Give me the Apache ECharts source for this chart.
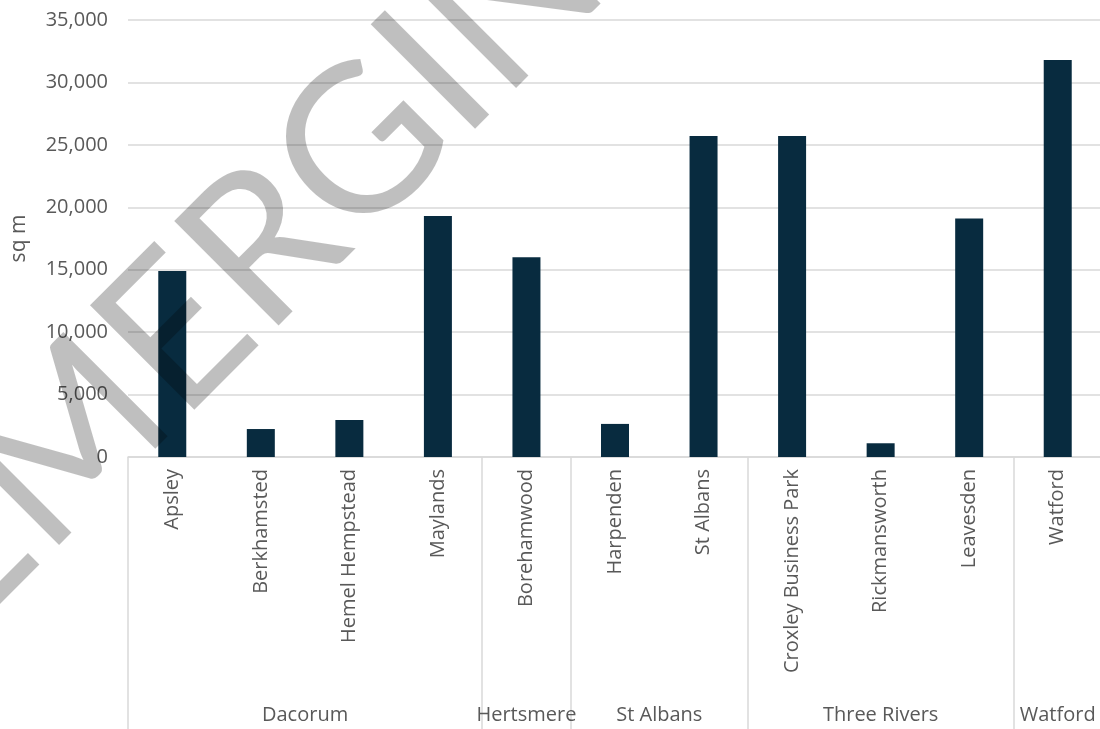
<!DOCTYPE html>
<html>
<head>
<meta charset="utf-8">
<script src="https://cdn.jsdelivr.net/npm/echarts@6/dist/echarts.min.js"></script>
<style>
  html, body { margin: 0; padding: 0; background: #ffffff; }
  #chart { width: 1100px; height: 729px; }
</style>
</head>
<body>
<div id="chart"></div>
<script>
// ---- data ----
const locations = ['Apsley', 'Berkhamsted', 'Hemel Hempstead', 'Maylands', 'Borehamwood',
  'Harpenden', 'St Albans', 'Croxley Business Park', 'Rickmansworth', 'Leavesden', 'Watford'];
const floorspace = [14900, 2240, 2960, 19300, 16000, 2650, 25700, 25700, 1100, 19100, 31800];
const districts = ['Dacorum', 'Hertsmere', 'St Albans', 'Three Rivers', 'Watford'];
const districtCounts = [4, 1, 2, 3, 1];
const yTicks = [0, 5000, 10000, 15000, 20000, 25000, 30000, 35000];
const yAxisTitle = 'sq m';
const watermarkText = 'EMERGING';

// derived group boundaries / centres (in category units)
const boundaries = [0];
const centres = [];
districtCounts.forEach(function (c) {
  const start = boundaries[boundaries.length - 1];
  centres.push(start + c / 2);
  boundaries.push(start + c);
});

const FONT = "'Open Sans', sans-serif";
const TXT = '#595959';
const GRID = '#d9d9d9';

const chart = echarts.init(document.getElementById('chart'));
chart.setOption({
  animation: false,
  backgroundColor: '#ffffff',
  grid: { left: 128, top: 20, width: 974, bottom: 272, containLabel: false, outerBoundsMode: 'none' },
  xAxis: [
    {
      type: 'category',
      data: locations,
      axisLine: { show: true, lineStyle: { color: GRID, width: 1.5 } },
      axisTick: { show: false },
      axisLabel: {
        rotate: 90, fontSize: 20, color: TXT, fontFamily: FONT, margin: 12, interval: 0
      },
      splitLine: { show: false }
    },
    {
      type: 'value',
      min: 0,
      max: locations.length,
      position: 'bottom',
      offset: 272,
      axisLine: { show: false },
      splitLine: { show: false },
      axisTick: {
        show: true, inside: true, length: 272,
        customValues: boundaries,
        lineStyle: { color: GRID, width: 1.5 }
      },
      axisLabel: {
        show: true, inside: true, margin: 4,
        customValues: centres,
        fontSize: 20, color: TXT, fontFamily: FONT,
        formatter: function (v) {
          const i = centres.indexOf(v);
          return i >= 0 ? districts[i] : '';
        }
      }
    }
  ],
  yAxis: {
    type: 'value',
    min: yTicks[0],
    max: yTicks[yTicks.length - 1],
    interval: yTicks[1] - yTicks[0],
    name: yAxisTitle,
    nameLocation: 'middle',
    nameGap: 98,
    nameRotate: 90,
    nameTextStyle: { fontSize: 21, color: TXT, fontFamily: FONT },
    axisLine: { show: false },
    axisTick: { show: false },
    axisLabel: {
      fontSize: 20, color: TXT, fontFamily: FONT, margin: 20,
      formatter: function (v) { return v.toLocaleString('en-US'); }
    },
    splitLine: { show: true, lineStyle: { color: GRID, width: 1.5 } }
  },
  series: [{
    type: 'bar',
    xAxisIndex: 0,
    data: floorspace,
    barWidth: 28,
    itemStyle: { color: '#082b3f' }
  }],
  graphic: [{
    type: 'text',
    z: 100,
    x: 294,
    y: 216,
    rotation: Math.PI / 4,
    style: {
      text: watermarkText,
      fontSize: 206,
      fontFamily: "Lato, sans-serif",
      fontWeight: 'normal',
      fill: 'rgba(0,0,0,0.25)',
      align: 'center',
      verticalAlign: 'middle'
    }
  }]
});
</script>
</body>
</html>
